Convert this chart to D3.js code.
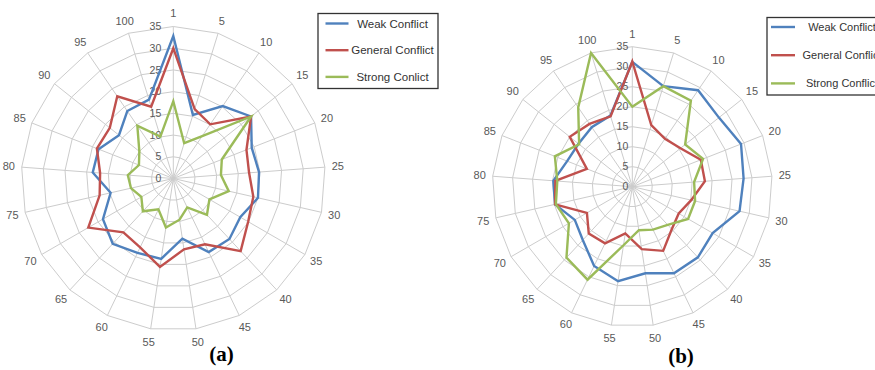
<!DOCTYPE html>
<html>
<head>
<meta charset="utf-8">
<script src="https://cdn.jsdelivr.net/npm/d3@7/dist/d3.min.js"></script>
<style>
  body { margin: 0; background: #fff; }
  svg { display: block; font-family: "Liberation Sans", Arial, sans-serif; }
</style>
</head>
<body>
<svg id="chart" width="875" height="370"></svg>
<script>
// categories round the radar and radial ticks
const categories = ["1", "5", "10", "15", "20", "25", "30", "35", "40", "45", "50",
  "55", "60", "65", "70", "75", "80", "85", "90", "95", "100"];
const radialTicks = [0, 5, 10, 15, 20, 25, 30, 35];

const colors = ["#4f81bd", "#c0504d", "#9bbb59"];
const namesA = ["Weak Conflict", "General Conflict", "Strong Conlict"];
const namesB = ["Weak Conflict", "General Conflict", "Strong Conflict"];

// (a)
const weakA = [32.8, 15.3, 20.2, 22.9, 19.4, 19.8, 20.0, 17.8, 19.0, 18.8, 14.0,
  18.7, 19.0, 20.5, 18.7, 14.8, 18.6, 18.5, 16.0, 18.8, 19.0];
const generalA = [30.0, 16.7, 15.1, 22.9, 18.1, 17.5, 18.9, 19.9, 22.8, 16.8, 16.5,
  20.6, 17.6, 16.9, 22.6, 17.4, 16.9, 18.9, 18.7, 22.9, 17.3];
const strongA = [17.8, 8.5, 11.8, 22.9, 12.0, 11.0, 13.1, 9.6, 11.4, 7.4, 9.6,
  11.4, 7.9, 10.3, 8.5, 10.0, 10.5, 8.5, 10.0, 14.7, 10.1];

// (b)
const weakB = [31.2, 26.3, 29.2, 27.7, 29.2, 27.9, 27.5, 23.2, 24.1, 24.0, 21.9,
  23.9, 22.0, 18.2, 16.6, 19.8, 19.8, 17.5, 17.2, 18.0, 18.6];
const generalB = [31.3, 16.1, 14.5, 15.4, 18.4, 18.2, 15.1, 13.4, 14.5, 17.8, 15.8,
  11.8, 15.7, 16.0, 13.1, 19.8, 19.3, 12.2, 20.0, 19.0, 18.4];
const strongB = [20.0, 26.3, 26.0, 16.9, 19.0, 15.5, 16.1, 16.1, 13.0, 11.9, 11.0,
  14.8, 25.8, 24.2, 18.3, 19.6, 18.8, 20.8, 17.0, 24.0, 35.0];

const svg = d3.select('#chart');

function drawRadar(o) {
  const g = svg.append('g').attr('transform', `translate(${o.cx},${o.cy})`);
  const r = d3.scaleLinear().domain([0, 35]).range([0, o.R]);
  const angle = d3.scaleLinear().domain([0, categories.length]).range([0, 2 * Math.PI]);

  const ring = d3.lineRadial()
    .angle((d, i) => angle(i))
    .radius(d => r(d))
    .curve(d3.curveLinearClosed);

  // rings
  g.selectAll('path.ring')
    .data(radialTicks.slice(1))
    .enter().append('path')
    .attr('class', 'ring')
    .attr('d', t => ring(categories.map(() => t)))
    .style('fill', 'none')
    .style('stroke', '#cccccc')
    .style('stroke-width', 1);

  // spokes
  g.selectAll('line.spoke')
    .data(categories)
    .enter().append('line')
    .attr('x1', 0).attr('y1', 0)
    .attr('x2', (d, i) => r(35) * Math.sin(angle(i)))
    .attr('y2', (d, i) => -r(35) * Math.cos(angle(i)))
    .style('stroke', '#cccccc')
    .style('stroke-width', 1);

  // radial tick labels
  g.selectAll('text.tick')
    .data(radialTicks)
    .enter().append('text')
    .attr('x', o.tickDx)
    .attr('y', t => -r(t))
    .attr('dy', '0.35em')
    .attr('text-anchor', 'end')
    .style('font-size', '10.5px')
    .style('fill', '#595959')
    .text(t => t);

  // series
  const line = d3.lineRadial()
    .angle((d, i) => angle(i))
    .radius(d => r(d))
    .curve(d3.curveLinearClosed);

  g.selectAll('path.series')
    .data(o.series)
    .enter().append('path')
    .attr('class', 'series')
    .attr('d', d => line(d))
    .style('fill', 'none')
    .style('stroke', (d, i) => colors[i])
    .style('stroke-width', 2.4)
    .style('stroke-linejoin', 'miter');

  // category labels
  const lr = o.R + 13;
  g.selectAll('text.cat')
    .data(categories)
    .enter().append('text')
    .attr('x', (d, i) => lr * Math.sin(angle(i)))
    .attr('y', (d, i) => -lr * Math.cos(angle(i)))
    .attr('dy', '0.35em')
    .attr('text-anchor', 'middle')
    .style('font-size', '11px')
    .style('fill', '#595959')
    .text(d => d);

  // legend
  const lg = svg.append('g');
  lg.append('rect')
    .attr('x', o.legend.x).attr('y', o.legend.y)
    .attr('width', o.legend.w).attr('height', o.legend.h)
    .style('fill', '#fff')
    .style('stroke', '#333')
    .style('stroke-width', 1.3);
  o.names.forEach((name, i) => {
    const y = o.legend.y + o.legend.first + i * o.legend.step;
    lg.append('line')
      .attr('x1', o.legend.lx1).attr('x2', o.legend.lx2)
      .attr('y1', y).attr('y2', y)
      .style('stroke', colors[i])
      .style('stroke-width', 2.4);
    lg.append('text')
      .attr('x', o.legend.tx).attr('y', y)
      .attr('dy', '0.35em')
      .attr('text-anchor', 'middle')
      .style('font-size', o.legend.fs)
      .style('fill', '#333')
      .text(name);
  });

  // caption
  svg.append('text')
    .attr('x', o.caption.x).attr('y', o.caption.y)
    .attr('text-anchor', 'middle')
    .style('font-family', '"Liberation Serif", "Times New Roman", serif')
    .style('font-weight', 'bold')
    .style('font-size', '21px')
    .style('fill', '#000')
    .text(o.caption.text);
}

drawRadar({
  cx: 173.3, cy: 178.5, R: 152, tickDx: -12,
  series: [weakA, generalA, strongA],
  names: namesA,
  legend: { x: 318, y: 13.5, w: 120, h: 75, first: 10, step: 26.7, lx1: 325.5, lx2: 348.5, tx: 392.5, fs: '11.5px' },
  caption: { x: 221.5, y: 361, text: '(a)' }
});

drawRadar({
  cx: 632.3, cy: 186.7, R: 140, tickDx: -4,
  series: [weakB, generalB, strongB],
  names: namesB,
  legend: { x: 767, y: 17.5, w: 150, h: 77.5, first: 9.5, step: 28.2, lx1: 771, lx2: 795, tx: 842, fs: '11px' },
  caption: { x: 681, y: 363, text: '(b)' }
});
</script>
</body>
</html>
